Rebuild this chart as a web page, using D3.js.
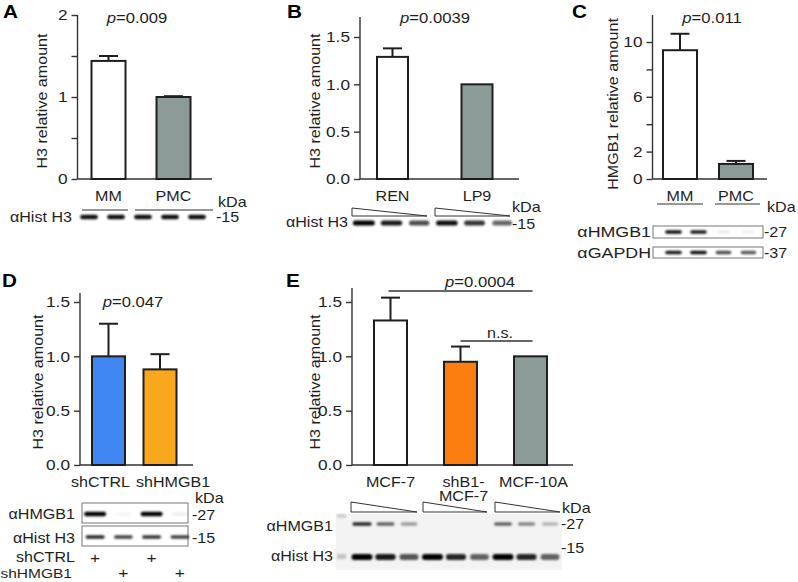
<!DOCTYPE html>
<html><head><meta charset="utf-8">
<script src="https://cdn.jsdelivr.net/npm/d3@7"></script>
<style>body{margin:0;background:#fff}svg{display:block}</style>
</head><body>
<svg id="c" width="798" height="582"></svg>
<script>
// ---------- DATA ----------
const catsA = ["MM", "PMC"];
const valsA = [1.44, 1.0];
const errA  = [0.06, 0.01];
const ticksA = [0, 0.5, 1, 1.5, 2];
const tickLabelsA = ["0", "", "1", "", "2"];

const catsB = ["REN", "LP9"];
const valsB = [1.29, 1.0];
const errB  = [0.09, 0];
const ticksB = [0, 0.5, 1.0, 1.5];
const tickLabelsB = ["0.0", "0.5", "1.0", "1.5"];

const catsC = ["MM", "PMC"];
const valsC = [9.4, 1.1];
const errC  = [1.2, 0.22];
const ticksC = [0, 2, 4, 6, 8, 10];
const tickLabelsC = ["0", "2", "", "6", "", "10"];

const catsD = ["shCTRL", "shHMGB1"];
const valsD = [1.0, 0.88];
const errD  = [0.30, 0.14];
const ticksD = [0, 0.5, 1.0, 1.5];
const tickLabelsD = ["0.0", "0.5", "1.0", "1.5"];

const catsE = ["MCF-7", "shB1-MCF-7", "MCF-10A"];
const catLinesE = [["MCF-7"], ["shB1-", "MCF-7"], ["MCF-10A"]];
const valsE = [1.33, 0.95, 1.0];
const errE  = [0.21, 0.14, 0];
const ticksE = [0, 0.5, 1.0, 1.5];
const tickLabelsE = ["0.0", "0.5", "1.0", "1.5"];

const pA = "0.009", pB = "0.0039", pC = "0.011", pD = "0.047", pE = "0.0004";

// blot band intensities (0..1)
const blotA_H3    = [0.95, 0.95, 0.95, 0.95, 0.95];
const blotB_H3    = [1.0, 0.9, 0.7, 0.95, 0.8, 0.6];
const blotC_HMGB1 = [0.95, 0.9, 0.08, 0.06];
const blotC_GAPDH = [0.9, 0.95, 0.7, 0.65];
const blotD_HMGB1 = [1.0, 0.03, 1.0, 0.05];
const blotD_H3    = [0.85, 0.75, 0.8, 0.75];
const plusD_shCTRL  = [1, 0, 1, 0];
const plusD_shHMGB1 = [0, 1, 0, 1];
const blotE_HMGB1 = [0.85, 0.6, 0.35, 0, 0, 0, 0.6, 0.45, 0.25];
const blotE_H3    = [1.0, 0.9, 0.65, 1.0, 0.85, 0.6, 1.0, 0.85, 0.6];

// ---------- STYLE ----------
const SX = 1.15;
const FONT = '"Liberation Sans", Arial, Helvetica, sans-serif';
const INK = "#1e1e1e";
const AX = "#333";
const WHITE = "#ffffff", GRAY = "#8c9b98", BLUE = "#3f86f2", ORANGE_D = "#f9a81e", ORANGE_E = "#fb7d0f";

const svg = d3.select("#c");
const defs = svg.append("defs");
defs.append("filter").attr("id", "blur").attr("x", "-50%").attr("y", "-100%").attr("width", "200%").attr("height", "300%")
  .append("feGaussianBlur").attr("stdDeviation", 0.8);

function T(g, x, y, str, o = {}) {
  const size = o.size || 14, anchor = o.anchor || "start", weight = o.weight || "normal";
  const rot = o.rot ? ` rotate(${o.rot})` : "";
  return g.append("text")
    .attr("transform", `translate(${x},${y})${rot} scale(${SX},1)`)
    .attr("text-anchor", anchor).attr("font-size", size).attr("font-weight", weight)
    .attr("font-family", FONT).attr("fill", INK).text(str);
}
function P(g, x, y, val) {
  const t = T(g, x, y, "", { anchor: "middle", size: 14.5 });
  t.append("tspan").attr("font-style", "italic").text("p");
  t.append("tspan").text("=" + val);
  return t;
}

function barPanel(o) {
  const g = svg.append("g");
  const n = o.cats.length, s = (o.cN - o.c1) / (n - 1), pad = 1 - o.bw / s;
  const x = d3.scaleBand().domain(o.cats).range([o.c1 - s / 2, o.cN + s / 2])
    .paddingInner(pad).paddingOuter(pad / 2);
  const y = d3.scaleLinear().domain(o.dom).range(o.rng);
  // axis
  const ax = g.append("g").attr("transform", `translate(${o.axisX},0)`)
    .call(d3.axisLeft(y).tickValues(o.ticks).tickFormat((d, i) => o.tickLabels[i]).tickSize(6).tickPadding(4).tickSizeOuter(0));
  ax.select(".domain").remove();
  ax.attr("color", AX).attr("font-family", FONT).attr("font-size", 15);
  ax.selectAll(".tick line").attr("stroke-width", 1.4);
  ax.selectAll(".tick text").attr("fill", INK).each(function () {
    const t = d3.select(this); const xx = +t.attr("x");
    t.attr("x", null).attr("transform", `translate(${xx},0) scale(${SX},1)`);
  });
  g.append("line").attr("x1", o.axisX).attr("x2", o.axisX).attr("y1", y(0)).attr("y2", o.axisTop)
    .attr("stroke", AX).attr("stroke-width", 1.4);
  g.append("line").attr("x1", o.axisX).attr("x2", o.axisEnd).attr("y1", y(0)).attr("y2", y(0))
    .attr("stroke", AX).attr("stroke-width", 1.4);
  // bars
  g.selectAll("rect.bar").data(o.cats).join("rect").attr("class", "bar")
    .attr("x", d => x(d)).attr("width", x.bandwidth())
    .attr("y", (d, i) => y(o.vals[i])).attr("height", (d, i) => y(0) - y(o.vals[i]))
    .attr("fill", (d, i) => o.colors[i]).attr("stroke", INK).attr("stroke-width", 2);
  // error bars
  o.cats.forEach((d, i) => {
    if (!o.errs[i]) return;
    const cx = x(d) + x.bandwidth() / 2, yt = y(o.vals[i] + o.errs[i]);
    g.append("line").attr("x1", cx).attr("x2", cx).attr("y1", y(o.vals[i])).attr("y2", yt).attr("stroke", INK).attr("stroke-width", 2);
    g.append("line").attr("x1", cx - 9.5).attr("x2", cx + 9.5).attr("y1", yt).attr("y2", yt).attr("stroke", INK).attr("stroke-width", 2);
  });
  // category labels
  o.cats.forEach((d, i) => {
    const lines = o.catLines ? o.catLines[i] : [d];
    const cx = x(d) + x.bandwidth() / 2 + (o.labelShift ? o.labelShift[i] : 0);
    const t = T(g, cx, y(0) + 22, "", { anchor: "middle" });
    lines.forEach((ln, k) => t.append("tspan").attr("x", 0).attr("dy", k ? 14.5 : 0).text(ln));
  });
  // y label
  T(g, o.ylX, o.ylY, o.ylabel, { anchor: "middle", rot: -90 });
  // letter
  T(g, o.letter[1], o.letter[2], o.letter[0], { size: 18, weight: "bold" }).attr("fill", "#000");
  return { g, x, y };
}

// ---------- PANEL A ----------
const A = barPanel({ cats: catsA, vals: valsA, errs: errA, colors: [WHITE, GRAY], dom: [0, 2], rng: [179, 15],
  ticks: ticksA, tickLabels: tickLabelsA, axisX: 77.5, axisTop: 15, axisEnd: 212, c1: 108.5, cN: 173.5, bw: 34,
  ylabel: "H3 relative amount", ylX: 47, ylY: 101, letter: ["A", 3, 18] });
P(A.g, 137, 23, pA);

// ---------- PANEL B ----------
const B = barPanel({ cats: catsB, vals: valsB, errs: errB, colors: [WHITE, GRAY], dom: [0, 1.5], rng: [179, 37],
  ticks: ticksB, tickLabels: tickLabelsB, axisX: 360, axisTop: 17, axisEnd: 519, c1: 392.5, cN: 477, bw: 31,
  ylabel: "H3 relative amount", ylX: 320, ylY: 101, letter: ["B", 287, 18] });
P(B.g, 435, 23, pB);

// ---------- PANEL C ----------
const C = barPanel({ cats: catsC, vals: valsC, errs: errC, colors: [WHITE, GRAY], dom: [0, 10], rng: [179, 42],
  ticks: ticksC, tickLabels: tickLabelsC, axisX: 652.5, axisTop: 15, axisEnd: 767, c1: 680, cN: 736, bw: 34,
  ylabel: "HMGB1 relative amount", ylX: 618, ylY: 104, letter: ["C", 572, 18] });
P(C.g, 712, 23, pC);

// ---------- PANEL D ----------
const D = barPanel({ cats: catsD, vals: valsD, errs: errD, colors: [BLUE, ORANGE_D], dom: [0, 1.5], rng: [465, 302],
  ticks: ticksD, tickLabels: tickLabelsD, axisX: 80, axisTop: 293, axisEnd: 193, c1: 108.5, cN: 160, bw: 33,
  labelShift: [-8, 13],
  ylabel: "H3 relative amount", ylX: 43, ylY: 382, letter: ["D", 2, 287] });
P(D.g, 133, 307, pD);

// ---------- PANEL E ----------
const E = barPanel({ cats: catsE, catLines: catLinesE, vals: valsE, errs: errE, colors: [WHITE, ORANGE_E, GRAY],
  dom: [0, 1.5], rng: [465, 302], ticks: ticksE, tickLabels: tickLabelsE, axisX: 352, axisTop: 288, axisEnd: 573,
  c1: 390.5, cN: 530.5, bw: 33, labelShift: [0, 3, 3],
  ylabel: "H3 relative amount", ylX: 320, ylY: 382, letter: ["E", 286, 287] });
{
  const cx = d => E.x(d) + E.x.bandwidth() / 2;
  E.g.append("line").attr("x1", cx(catsE[0]) - 2).attr("x2", cx(catsE[2]) + 2).attr("y1", 291).attr("y2", 291).attr("stroke", AX).attr("stroke-width", 1.4);
  P(E.g, 480, 287, pE);
  E.g.append("line").attr("x1", cx(catsE[1])).attr("x2", cx(catsE[2]) + 2).attr("y1", 341).attr("y2", 341).attr("stroke", AX).attr("stroke-width", 1.4);
  T(E.g, 500, 338, "n.s.", { anchor: "middle" });
}

// ---------- BLOT HELPERS ----------
function lanes(n, r) { return d3.scaleBand().domain(d3.range(n)).range(r); }
function bandRow(g, sc, yc, vals, w, h) {
  g.selectAll(null).data(vals).join("rect")
    .attr("x", (d, i) => sc(i) + sc.bandwidth() / 2 - w * (0.75 + 0.25 * Math.min(1, d)) / 2)
    .attr("width", d => w * (0.75 + 0.25 * Math.min(1, d)))
    .attr("y", yc - h / 2).attr("height", h).attr("rx", h / 2)
    .attr("fill", "#050505").attr("opacity", d => d).attr("filter", "url(#blur)");
}
function wedge(g, x0, x1, yt, yb) {
  g.append("path").attr("d", `M${x0},${yt}L${x0},${yb}L${x1},${yb}Z`)
    .attr("fill", "#fff").attr("stroke", "#333").attr("stroke-width", 1);
}
function hline(g, x0, x1, yy) { g.append("line").attr("x1", x0).attr("x2", x1).attr("y1", yy).attr("y2", yy).attr("stroke", "#333").attr("stroke-width", 1.2); }
function box(g, x0, x1, y0, y1) { g.append("rect").attr("x", x0).attr("y", y0).attr("width", x1 - x0).attr("height", y1 - y0).attr("fill", "none").attr("stroke", "#777").attr("stroke-width", 1); }

// A blot
{
  const g = svg.append("g");
  hline(g, 82, 128, 210); hline(g, 135, 213, 210);
  bandRow(g, lanes(5, [75.5, 210.5]), 217, blotA_H3, 18, 4.5);
  T(g, 72, 222, "αHist H3", { anchor: "end" });
  T(g, 218, 207, "kDa"); T(g, 216, 222, "-15");
}
// B blot
{
  const g = svg.append("g");
  wedge(g, 352, 427, 208, 216); wedge(g, 435, 510, 208, 216);
  bandRow(g, lanes(6, [350, 516]), 223, blotB_H3, 22, 5);
  T(g, 348, 227, "αHist H3", { anchor: "end" });
  T(g, 512, 212, "kDa"); T(g, 512, 229, "-15");
}
// C blot
{
  const g = svg.append("g");
  hline(g, 657, 703, 204); hline(g, 715, 760, 204);
  T(g, 767, 212, "kDa");
  const sc = lanes(4, [661, 761]);
  box(g, 653, 763, 226, 238); box(g, 653, 763, 247, 258);
  bandRow(g, sc, 232, blotC_HMGB1, 17, 3.5);
  bandRow(g, sc, 252.5, blotC_GAPDH, 17, 3.5);
  T(g, 651, 237, "αHMGB1", { anchor: "end", size: 15.5 }); T(g, 651, 258, "αGAPDH", { anchor: "end", size: 15.5 });
  T(g, 764, 237, "-27"); T(g, 764, 258, "-37");
}
// D blot
{
  const g = svg.append("g");
  const sc = lanes(4, [81, 194]);
  box(g, 82, 188, 503, 523); box(g, 82, 188, 526, 546);
  bandRow(g, sc, 514, blotD_HMGB1, 22, 4.5);
  bandRow(g, sc, 537, blotD_H3, 20, 3.5);
  T(g, 195, 503, "kDa"); T(g, 192, 520, "-27"); T(g, 192, 543, "-15");
  T(g, 75, 519, "αHMGB1", { anchor: "end" }); T(g, 75, 543, "αHist H3", { anchor: "end" });
  T(g, 75, 562, "shCTRL", { anchor: "end" }); T(g, 72, 578, "shHMGB1", { anchor: "end", size: 13.5 });
  plusD_shCTRL.forEach((v, i) => { if (v) T(g, sc(i) + sc.bandwidth() / 2, 563, "+", { anchor: "middle", size: 15 }); });
  plusD_shHMGB1.forEach((v, i) => { if (v) T(g, sc(i) + sc.bandwidth() / 2, 578, "+", { anchor: "middle", size: 15 }); });
}
// E blot
{
  const g = svg.append("g");
  g.append("rect").attr("x", 336).attr("y", 514).attr("width", 226).attr("height", 56).attr("fill", "#f3f3f3");
  g.append("rect").attr("x", 337).attr("y", 514).attr("width", 9).attr("height", 4).attr("fill", "#cfcfcf").attr("filter", "url(#blur)");
  g.append("rect").attr("x", 337).attr("y", 554).attr("width", 9).attr("height", 5).attr("fill", "#c4c4c4").attr("filter", "url(#blur)");
  wedge(g, 351, 417, 502, 512); wedge(g, 423, 487, 502, 512); wedge(g, 495, 560, 502, 512);
  const sc = lanes(9, [350.25, 561.75]);
  bandRow(g, sc, 524, blotE_HMGB1, 20, 3.5);
  bandRow(g, sc, 557, blotE_H3, 21, 6);
  T(g, 562, 513, "kDa"); T(g, 561, 529, "-27"); T(g, 561, 553, "-15");
  T(g, 333, 531, "αHMGB1", { anchor: "end" }); T(g, 333, 561, "αHist H3", { anchor: "end" });
}
</script>
</body></html>
